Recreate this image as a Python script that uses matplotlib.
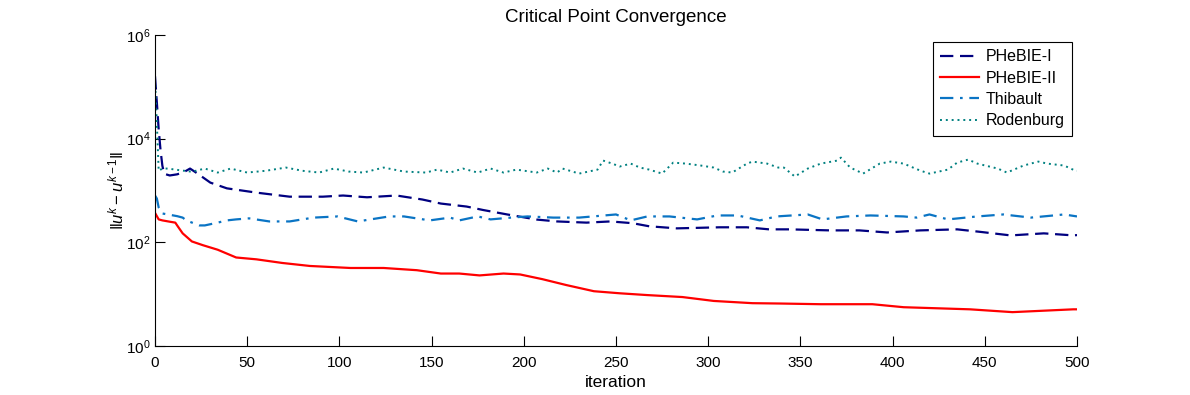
import matplotlib
matplotlib.use('Agg')
import matplotlib.pyplot as plt
import matplotlib.ticker as ticker
import numpy as np

# values (iteration, ||u^k - u^(k-1)||)
phebie1_it = [0, 1, 2, 3, 4, 5, 8, 12, 16, 19, 23, 30, 39, 55, 73, 91, 102, 115, 131, 145,
              155, 169, 178, 191, 207, 218, 234, 247, 259, 268, 283, 306, 321, 333, 344,
              366, 382, 397, 415, 435, 447, 464, 482, 498, 500]
phebie1_val = [1.6e5, 5e4, 1.5e4, 6000, 3000, 2100, 1950, 2050, 2300, 2650, 2130, 1420, 1100,
               910, 760, 760, 800, 740, 800, 670, 560, 490, 420, 345, 275, 253, 240, 253,
               234, 204, 186, 195, 195, 178, 178, 170, 170, 155, 170, 178, 160, 136, 149,
               136, 138]

phebie2_it = [0, 2, 4, 8, 11, 12.5, 15, 20, 26, 34, 44, 55, 69, 84, 106, 124, 142, 155, 165,
              176, 189, 198, 210, 223, 238, 252, 267, 286, 303, 324, 339, 361, 389, 406,
              442, 465, 498, 500]
phebie2_val = [370, 277, 265, 250, 240, 200, 149, 104, 88, 72, 51, 47, 40, 35, 32, 32, 29, 25,
               25, 23, 25, 24, 19.5, 15, 11.4, 10.4, 9.6, 8.8, 7.4, 6.7, 6.6, 6.4, 6.4, 5.6,
               5.1, 4.5, 5.1, 5.1]

thibault_it = [0, 1, 2, 4, 8, 12, 15, 17, 21, 24, 27, 34, 39, 44, 51, 62, 73, 86, 99, 110,
               127, 135, 149, 160, 165, 175, 182, 193, 202, 216, 230, 250, 258, 267, 279,
               294, 305, 316, 328, 337, 354, 362, 375, 388, 406, 413, 420, 430, 446, 460,
               475, 493, 500]
thibault_val = [800, 700, 470, 360, 340, 320, 300, 265, 233, 212, 212, 240, 265, 277, 290,
                253, 253, 300, 316, 253, 316, 316, 265, 300, 265, 316, 277, 300, 316, 300,
                300, 345, 265, 316, 316, 277, 330, 330, 265, 316, 345, 277, 316, 330, 316,
                300, 345, 277, 316, 345, 300, 345, 316]

rodenburg_it = [0, 1, 2, 4, 7, 12, 20, 27, 34, 41, 50, 60, 71, 80, 89, 97, 105, 113, 124,
                135, 147, 153, 160, 167, 175, 182, 189, 196, 207, 213, 218, 221, 230, 240,
                243, 248, 252, 258, 263, 268, 275, 281, 288, 296, 303, 308, 313, 321, 324,
                332, 338, 341, 347, 354, 361, 370, 372, 377, 384, 393, 399, 406, 415, 420,
                430, 435, 441, 446, 457, 462, 471, 479, 484, 493, 499, 500]
rodenburg_val = [1.4e5, 2e4, 2400, 2650, 2650, 2500, 2300, 2650, 2220, 2650, 2220, 2400,
                 2770, 2400, 2220, 2650, 2320, 2220, 2770, 2320, 2220, 2530, 2220, 2650,
                 2220, 2650, 2220, 2530, 2220, 2650, 2220, 2650, 2120, 2530, 3780, 3300,
                 2900, 3300, 2770, 2530, 2120, 3450, 3300, 3030, 2770, 2320, 2220, 3300,
                 3610, 3300, 2770, 2770, 1860, 2650, 3300, 3780, 4310, 2770, 2120, 3300,
                 3610, 3300, 2420, 2120, 2530, 3450, 3950, 3300, 2650, 2220, 3030, 3610,
                 3300, 3030, 2420, 2400]

plt.rcParams['font.family'] = ['Liberation Sans', 'DejaVu Sans']
plt.rcParams['mathtext.fontset'] = 'custom'
plt.rcParams['mathtext.rm'] = 'Liberation Sans'
plt.rcParams['mathtext.it'] = 'Liberation Sans:italic'

fig = plt.figure(figsize=(11.9, 3.95), dpi=100)
ax = fig.add_axes([155 / 1190, 1 - 346 / 395, 922 / 1190, 311 / 395])

ax.plot(phebie1_it, phebie1_val, color='#000080', lw=1.6, dashes=(6, 3), label='PHeBIE-I')
ax.plot(phebie2_it, phebie2_val, color='#ff0000', lw=1.6, label='PHeBIE-II')
ax.plot(thibault_it, thibault_val, color='#0a74c4', lw=1.6, dashes=(6, 3, 1.2, 3), label='Thibault')
ax.plot(rodenburg_it, rodenburg_val, color='#008080', lw=1.4, dashes=(1, 2), label='Rodenburg')

ax.set_yscale('log')
ax.set_xlim(0, 500)
ax.set_ylim(1, 1e6)
ax.set_xticks(np.arange(0, 501, 50))
ax.yaxis.set_major_locator(ticker.FixedLocator([1, 1e2, 1e4, 1e6]))
ax.yaxis.set_minor_locator(ticker.NullLocator())
ax.tick_params(direction='in', length=7, width=0.8, labelsize=11)
ax.tick_params(axis='x', pad=7)
ax.tick_params(axis='y', pad=3)
ax.spines['top'].set_visible(False)
ax.spines['right'].set_visible(False)

ax.set_title('Critical Point Convergence', fontsize=13.5, pad=9)
ax.set_xlabel('iteration', fontsize=12.5, labelpad=4)
ax.set_ylabel(r'$\|u^{k} - u^{k-1}\|$', fontsize=12, labelpad=0)

leg = ax.legend(loc='upper right', bbox_to_anchor=((1072 - 155) / 922, (346 - 42) / 311),
                borderaxespad=0, fontsize=11.5, fancybox=False, framealpha=1,
                edgecolor='black', handlelength=2.4, borderpad=0.45, labelspacing=0.4,
                handletextpad=0.45)
leg.get_frame().set_linewidth(0.8)

fig.savefig('out.png', dpi=100)
